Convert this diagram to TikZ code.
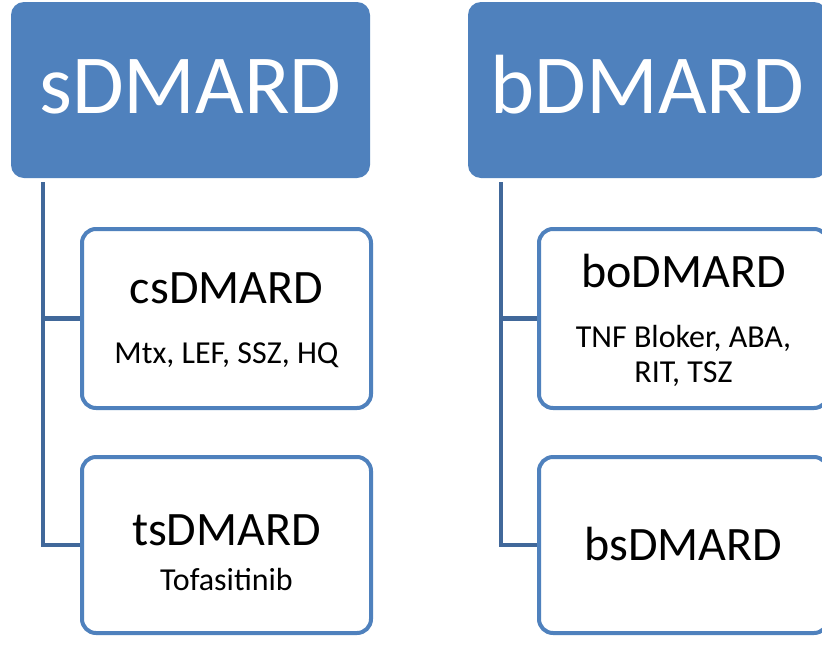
\documentclass[tikz,border=0pt]{standalone}
\usepackage{fontspec}
\setmainfont{Carlito}
\definecolor{acc}{HTML}{4F81BD}
\definecolor{connc}{HTML}{41689A}
\begin{document}
\begin{tikzpicture}[x=1pt,y=-1pt]
\tikzset{
 parentbox/.style={fill=acc, rounded corners=13pt, draw=none, inner sep=0, minimum width=359pt, minimum height=176pt},
 childbox/.style={draw=acc, line width=4pt, fill=white, rounded corners=14pt, inner sep=0, minimum width=289pt},
 connline/.style={draw=connc, line width=4.5pt},
 bigtxt/.style={font=\fontsize{84}{100}\selectfont, text=white, inner sep=0, anchor=base},
 midtxt/.style={font=\fontsize{48}{58}\selectfont, text=black, inner sep=0, anchor=base},
 smalltxt/.style={font=\fontsize{32}{38}\selectfont, text=black, inner sep=0, anchor=base},
}
\useasboundingbox (0,0) rectangle (822,646);
\fill[white] (0,0) rectangle (822,646);

% parents
\node[parentbox] (s) at (190.5,90) {};
\node[parentbox] (b) at (647.5,90) {};

% children
\node[childbox, minimum height=179pt] (cs) at (226.5,318.5) {};
\node[childbox, minimum height=176pt] (ts) at (226.5,545) {};
\node[childbox, minimum height=179pt] (bo) at (683.5,318.5) {};
\node[childbox, minimum height=176pt] (bs) at (683.5,545) {};

% connectors
\coordinate (sv) at ([xshift=32pt,yshift=-4pt]s.south west);
\coordinate (bv) at ([xshift=33pt,yshift=-4pt]b.south west);
\draw[connline] (sv) |- (cs.west);
\draw[connline] (sv) |- (ts.west);
\draw[connline] (bv) |- (bo.west);
\draw[connline] (bv) |- (bs.west);

% texts
\node[bigtxt] (st) at (190.5,113) {sDMARD};
\node[bigtxt] (bt) at (647.5,113) {bDMARD};
\node[midtxt] (cst) at (226.5,303) {csDMARD};
\node[smalltxt] (css) at (226.5,363) {Mtx, LEF, SSZ, HQ};
\node[midtxt] (tst) at (226.5,545) {tsDMARD};
\node[smalltxt] (tss) at (226.5,590) {Tofasitinib};
\node[midtxt] (bot) at (683.5,287) {boDMARD};
\node[smalltxt] (bos1) at (683.5,347) {TNF Bloker, ABA,};
\node[smalltxt] (bos2) at (683.5,382) {RIT, TSZ};
\node[midtxt] (bst) at (683.5,560) {bsDMARD};
\end{tikzpicture}
\end{document}
